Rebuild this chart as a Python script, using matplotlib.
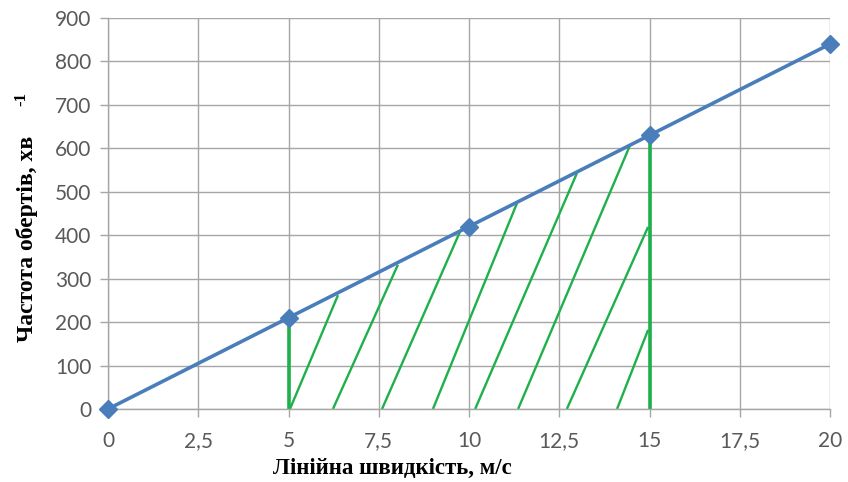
import matplotlib
matplotlib.use("Agg")
import matplotlib.pyplot as plt
from matplotlib.ticker import FuncFormatter

# Data
speed = [0, 5, 10, 15, 20]
rpm = [0, 210, 420, 630, 840]
x_ticks = [0, 2.5, 5, 7.5, 10, 12.5, 15, 17.5, 20]
y_ticks = list(range(0, 1000, 100))

# shaded region boundaries
bound_x = [5, 15]
bound_top = [210, 630]

# hand-drawn hatch lines (start at bottom x, end at (x1, y1))
hatch_x0 = [5.04, 6.23, 7.59, 9.00, 10.17, 11.36, 12.71, 14.10]
hatch_x1 = [6.37, 8.03, 9.75, 11.33, 12.99, 14.45, 14.96, 14.96]
hatch_y1 = [262, 332, 408, 474, 543, 605, 419, 182]

blue = "#4a7ebb"
green = "#1db04b"
grid_c = "#a6a6a6"
tick_c = "#595959"

fig = plt.figure(figsize=(8.48, 4.82), dpi=100)
ax = fig.add_axes([0.1274, 0.1515, 0.8514, 0.8112])

ax.set_xlim(0, 20)
ax.set_ylim(0, 900)
ax.set_xticks(x_ticks)
ax.set_yticks(y_ticks)
ax.xaxis.set_major_formatter(FuncFormatter(lambda v, p: (f"{v:g}").replace(".", ",")))
ax.grid(True, color=grid_c, linewidth=1.0)
ax.set_axisbelow(True)
for s in ["top", "right"]:
    ax.spines[s].set_visible(False)
for s in ["left", "bottom"]:
    ax.spines[s].set_color(grid_c)
    ax.spines[s].set_linewidth(1.0)
ax.tick_params(axis="both", colors=grid_c, length=6, width=1.0, labelcolor=tick_c,
               labelsize=15, direction="out")
ax.tick_params(axis="x", pad=10)
ax.tick_params(axis="y", pad=6)
for lab in ax.get_xticklabels() + ax.get_yticklabels():
    lab.set_fontfamily("Lato")

# hatch
for x0, x1, y1 in zip(hatch_x0, hatch_x1, hatch_y1):
    ax.plot([x0, x1], [0, y1], color=green, linewidth=1.7, solid_capstyle="butt", zorder=2)
for bx, bt in zip(bound_x, bound_top):
    ax.plot([bx, bx], [0, bt], color=green, linewidth=2.6, zorder=2)

ax.plot(speed, rpm, color=blue, linewidth=2.6, marker="D", markersize=9,
        markerfacecolor=blue, markeredgecolor=blue, zorder=3, clip_on=False)

fig.text(392 / 848, 1 - 468 / 482, "Лінійна швидкість, м/с", ha="center", va="center",
         fontsize=16.5, fontweight="bold", family="Liberation Serif")
fig.text(27 / 848, 1 - 239 / 482, "Частота обертів, хв", ha="center", va="center",
         rotation=90, fontsize=17, fontweight="bold", family="Liberation Serif")
fig.text(21 / 848, 1 - 99 / 482, "-1", ha="center", va="center",
         rotation=90, fontsize=12, fontweight="bold", family="Liberation Serif")

fig.savefig("out.png", dpi=100)
